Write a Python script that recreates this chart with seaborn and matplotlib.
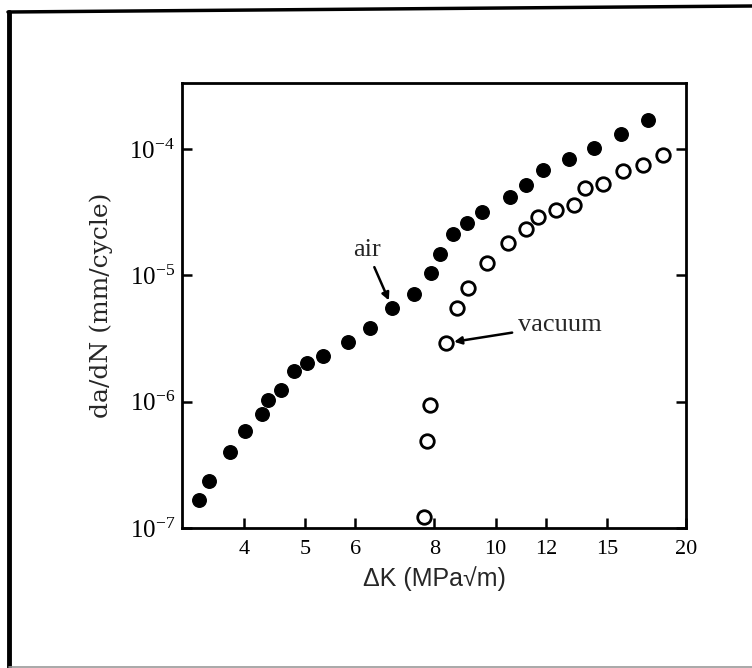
import matplotlib
matplotlib.use("Agg")
import matplotlib.pyplot as plt
import seaborn as sns
import pandas as pd
from matplotlib.ticker import FixedLocator, FixedFormatter, NullLocator, LogLocator, LogFormatterSciNotation

# ---- data ----
air_dk = [3.39, 3.52, 3.80, 4.01, 4.27, 4.37, 4.57, 4.80, 5.03, 5.34, 5.85, 6.33,
          6.86, 7.43, 7.91, 8.17, 8.55, 9.01, 9.52, 10.52, 11.16, 11.87, 13.07,
          14.29, 15.78, 17.4]
air_rate = [1.66e-7, 2.35e-7, 3.99e-7, 5.85e-7, 7.98e-7, 1.03e-6, 1.24e-6, 1.75e-6,
            2.02e-6, 2.30e-6, 2.96e-6, 3.83e-6, 5.51e-6, 7.11e-6, 1.04e-5, 1.47e-5,
            2.12e-5, 2.60e-5, 3.17e-5, 4.17e-5, 5.19e-5, 6.82e-5, 8.34e-5, 1.02e-4,
            1.32e-4, 1.70e-4]
vac_dk = [7.71, 7.80, 7.86, 8.34, 8.70, 9.04, 9.69, 10.45, 11.16, 11.66, 12.45,
          13.32, 13.83, 14.78, 15.91, 17.07, 18.38]
vac_rate = [1.22e-7, 4.88e-7, 9.40e-7, 2.91e-6, 5.51e-6, 7.93e-6, 1.25e-5, 1.80e-5,
            2.33e-5, 2.90e-5, 3.29e-5, 3.61e-5, 4.91e-5, 5.28e-5, 6.70e-5, 7.47e-5,
            8.96e-5]
x_ticks = [4, 5, 6, 8, 10, 12, 15, 20]
x_tick_labels = ["4", "5", "6", "8", "10", "12", "15", "20"]

air_df = pd.DataFrame({"dK": air_dk, "rate": air_rate})
vac_df = pd.DataFrame({"dK": vac_dk, "rate": vac_rate})

sns.set_style("white")
plt.rcParams["font.family"] = ["Liberation Serif", "DejaVu Serif"]
plt.rcParams["mathtext.fontset"] = "custom"
plt.rcParams["mathtext.rm"] = "Liberation Serif"
plt.rcParams["mathtext.it"] = "Liberation Serif:italic"

fig = plt.figure(figsize=(7.52, 6.68), dpi=100)
ax = fig.add_axes([182 / 752, 1 - 528 / 668, (686 - 182) / 752, (528 - 83) / 668])

sns.scatterplot(data=air_df, x="dK", y="rate", ax=ax, color="black", s=95,
                marker="o", edgecolor="black", linewidth=1, zorder=3)
sns.scatterplot(data=vac_df, x="dK", y="rate", ax=ax, s=95, marker="o",
                facecolor="white", edgecolor="black", linewidth=2.0, zorder=3)

ax.set_xscale("log")
ax.set_yscale("log")
ax.set_xlim(3.19, 20)
ax.set_ylim(1e-7, 3.33e-4)

ax.xaxis.set_major_locator(FixedLocator(x_ticks))
ax.xaxis.set_major_formatter(FixedFormatter(x_tick_labels))
ax.xaxis.set_minor_locator(NullLocator())
ax.yaxis.set_major_locator(LogLocator(base=10, numticks=10))
ax.yaxis.set_major_formatter(LogFormatterSciNotation())
ax.yaxis.set_minor_locator(NullLocator())

ax.tick_params(axis="both", which="major", direction="in", length=7, width=1.8,
               colors="black")
ax.tick_params(axis="x", bottom=True, top=False, labelsize=16, pad=9)
ax.tick_params(axis="y", right=True, left=True, labelsize=18, pad=5)

for sp in ax.spines.values():
    sp.set_linewidth(2.0)
    sp.set_color("black")
    sp.set_visible(True)

ax.set_xlabel("ΔK (MPa√m)", fontsize=18, labelpad=5,
              family=["Liberation Sans", "DejaVu Sans"])
ax.set_ylabel("da/dN (mm/cycle)", fontsize=18, labelpad=12,
              family=["DejaVu Serif"])

arrow = dict(arrowstyle="-|>", color="black", lw=1.8, mutation_scale=11,
             shrinkA=2, shrinkB=6)
ax.annotate("air", xy=(6.86, 5.51e-6), xytext=(0.367, 0.624),
            textcoords="axes fraction", fontsize=19,
            ha="center", va="center", arrowprops=arrow)
ax.annotate("vacuum", xy=(8.34, 2.91e-6), xytext=(0.667, 0.456),
            textcoords="axes fraction", fontsize=19,
            ha="left", va="center", arrowprops=arrow)

# outer frame of the scanned figure
fig.add_artist(plt.Line2D([9 / 752, 9 / 752], [0, 1 - 12 / 668],
                          color="black", lw=3.5, transform=fig.transFigure))
fig.add_artist(plt.Line2D([8 / 752, 1], [1 - 12 / 668, 1 - 6 / 668],
                          color="black", lw=2.5, transform=fig.transFigure))
fig.add_artist(plt.Line2D([9 / 752, 1], [1.5 / 668, 1.5 / 668],
                          color="#999999", lw=1.2, transform=fig.transFigure))

fig.savefig("out.png", dpi=100)
